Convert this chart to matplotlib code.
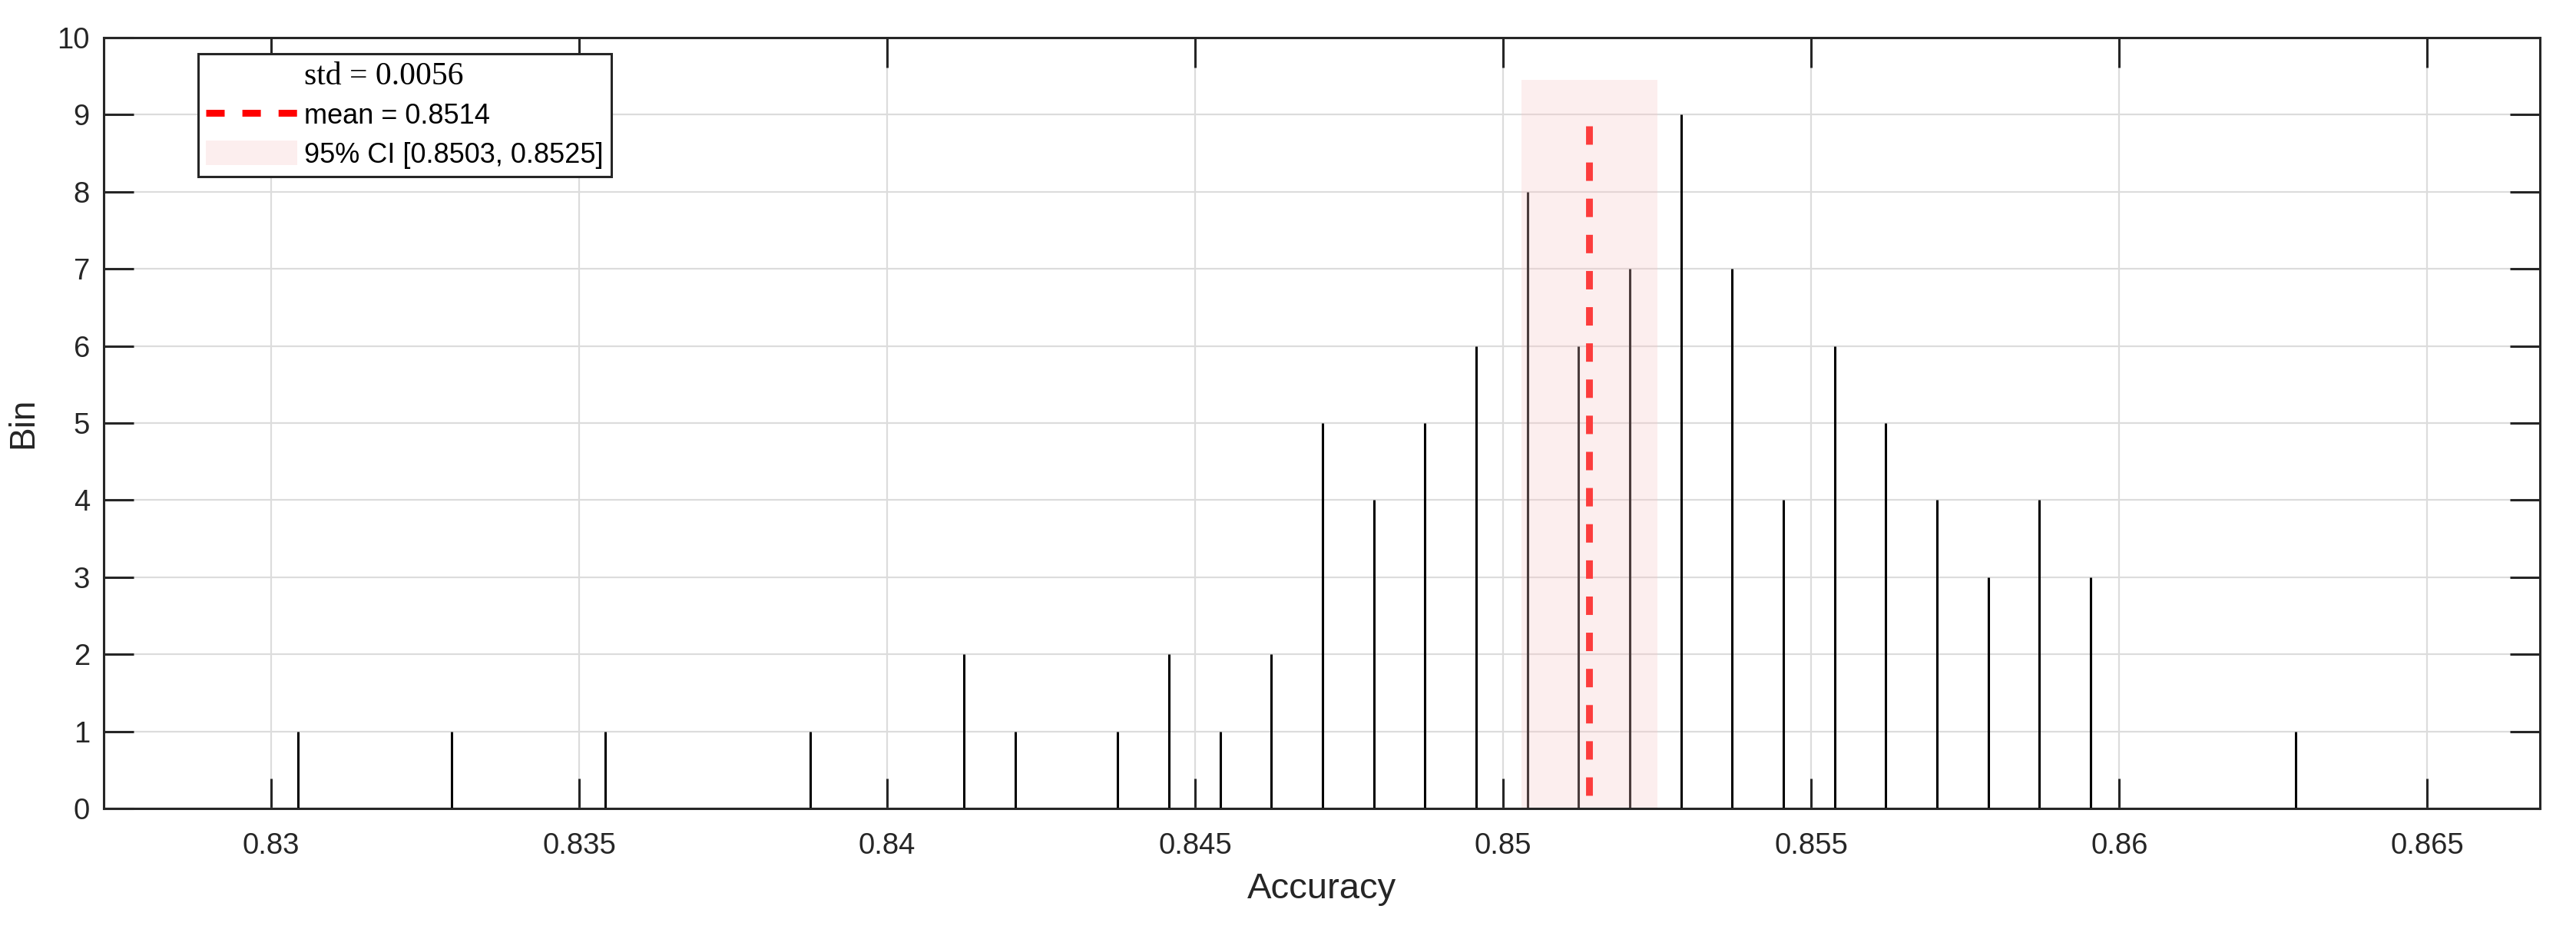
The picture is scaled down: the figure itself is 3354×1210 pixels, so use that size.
import matplotlib
matplotlib.use("Agg")
import matplotlib.pyplot as plt
from matplotlib.lines import Line2D
from matplotlib.patches import Patch

# ---- data ----
bin_positions = [0.830440, 0.832934, 0.835428, 0.838753, 0.841247, 0.842078,
                 0.843741, 0.844572, 0.845403, 0.846235, 0.847066, 0.847897,
                 0.848729, 0.849560, 0.850391, 0.851223, 0.852054, 0.852885,
                 0.853716, 0.854548, 0.855379, 0.856210, 0.857042, 0.857873,
                 0.858704, 0.859536, 0.862861]
bin_counts = [1, 1, 1, 1, 2, 1, 1, 2, 1, 2, 5, 4, 5, 6, 8, 6, 7, 9, 7, 4,
              6, 5, 4, 3, 4, 3, 1]
mean_value = 0.8514
std_value = 0.0056
ci_low, ci_high = 0.8503, 0.8525
ci_top = 9.45
mean_line_top = 8.85
x_ticks = [0.83, 0.835, 0.84, 0.845, 0.85, 0.855, 0.86, 0.865]
x_tick_labels = ["0.83", "0.835", "0.84", "0.845", "0.85", "0.855", "0.86", "0.865"]
y_ticks = list(range(0, 11))
x_limits = (0.82728, 0.86683)
y_limits = (0, 10)

DARK = "#262626"
plt.rcParams["font.family"] = ["Liberation Sans", "DejaVu Sans"]

fig = plt.figure(figsize=(33.55, 12.10), dpi=100)
ax = fig.add_axes([0.04024, 0.12975, 0.98569 - 0.04024, 0.95950 - 0.12975])

ax.grid(True, color="#dcdcdc", linewidth=1.6, zorder=0)
ax.set_axisbelow(True)

ax.vlines(bin_positions, 0, bin_counts, colors="black", linewidth=2.2, zorder=2)

mean_line, = ax.plot([mean_value, mean_value], [mean_line_top, 0], color="red",
                     linewidth=6.4, linestyle=(0, (2.7, 2.6)), zorder=3,
                     solid_capstyle="butt", dash_capstyle="butt")

ax.fill_between([ci_low, ci_high], 0, ci_top, facecolor=(248/255, 200/255, 200/255),
                alpha=0.3, linewidth=0, zorder=4)

ax.set_xlim(*x_limits)
ax.set_ylim(*y_limits)
ax.set_xticks(x_ticks)
ax.set_xticklabels(x_tick_labels)
ax.set_yticks(y_ticks)

ax.tick_params(axis="both", direction="in", length=28, width=2.2, color=DARK,
               labelcolor=DARK, labelsize=27.5, top=True, right=True)
ax.tick_params(axis="x", pad=22)
ax.tick_params(axis="y", pad=13)
for sp in ax.spines.values():
    sp.set_linewidth(2.2)
    sp.set_color(DARK)
    sp.set_zorder(5)

ax.set_xlabel("Accuracy", fontsize=34, color=DARK, labelpad=12)
ax.set_ylabel("Bin", fontsize=33, color=DARK, labelpad=16)

std_handle = Line2D([], [], linestyle="none", marker=None)
ci_handle = Patch(facecolor=(248/255, 200/255, 200/255), alpha=0.3, linewidth=0)
leg = ax.legend([std_handle, mean_line, ci_handle],
                [f"std = {std_value:.4f}", f"mean = {mean_value:.4f}",
                 f"95% CI [{ci_low:.4f}, {ci_high:.4f}]"],
                loc="upper left", bbox_to_anchor=(0.0388, 0.9786), borderaxespad=0,
                fontsize=26, fancybox=False, framealpha=1, edgecolor=DARK,
                handlelength=3.3, handleheight=1.0, handletextpad=0.25,
                borderpad=0.28, labelspacing=0.38)
leg.get_frame().set_linewidth(2.2)
leg.set_zorder(10)
t0 = leg.get_texts()[0]
t0.set_fontfamily(["Liberation Serif", "DejaVu Serif"])
t0.set_fontsize(30)
for t in leg.get_texts():
    t.set_color("black")

fig.savefig("out.png", dpi=100)
